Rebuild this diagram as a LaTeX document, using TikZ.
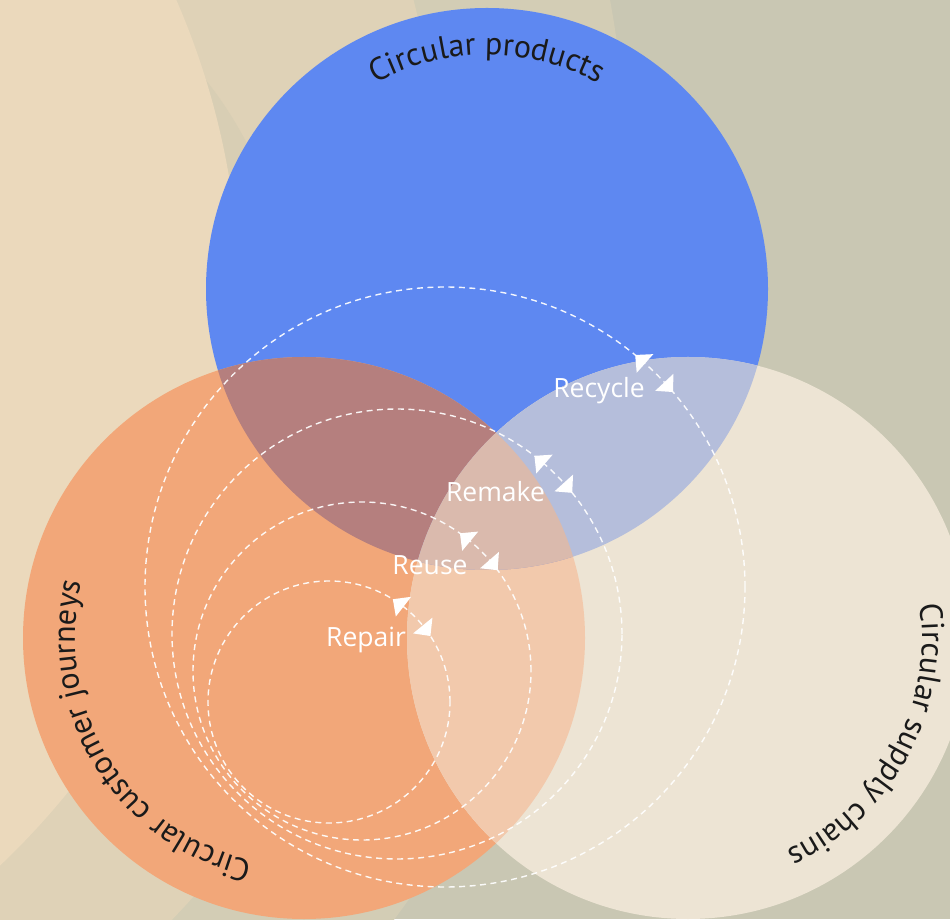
\documentclass[tikz,border=0pt]{standalone}
\usepackage{fontspec}
\setmainfont{Open Sans}
\newfontfamily\arcfont{PT Sans}
\usetikzlibrary{calc,decorations.text}
\definecolor{bgGrey}{HTML}{C9C7B3}
\definecolor{bgMidA}{HTML}{D3CDB5}
\definecolor{bgMidB}{HTML}{DFD2B7}
\definecolor{bgBand}{HTML}{D8CEB4}
\definecolor{bgLight}{HTML}{EBD9BC}
\definecolor{prodBlue}{HTML}{5E88F1}
\definecolor{custOrange}{HTML}{F2A779}
\definecolor{supBeige}{HTML}{EDE4D4}
\definecolor{ovBO}{HTML}{B57F7E}
\definecolor{ovBS}{HTML}{B5BEDB}
\definecolor{ovOS}{HTML}{F2C9AC}
\definecolor{ovAll}{HTML}{DABAAD}
\definecolor{txtDark}{HTML}{1A1A1A}
\tikzset{
  dashloop/.style={draw=white, draw opacity=0.92, line width=1.4pt, dash pattern=on 6pt off 4.5pt},
  arrowtip/.style={fill=white},
  looplabel/.style={text=white, font=\fontsize{26.5}{31}\selectfont, anchor=base, inner sep=0pt},
  arctext/.style={decorate, decoration={text along path, text align=center, text color=txtDark, text={|\arcfont\fontsize{32}{38}\selectfont|#1}}},
}
\newcommand\looparrows[2]{%
  \pgfmathsetmacro\tipoff{deg(26.5/#2)}%
  \pgfmathsetmacro\baseoff{deg(13.5/#2)}%
  \pgfmathsetmacro\aone{45.6+\tipoff}\pgfmathsetmacro\bone{45.6+\baseoff}%
  \pgfmathsetmacro\atwo{45.6-\tipoff}\pgfmathsetmacro\btwo{45.6-\baseoff}%
  \pgfmathsetmacro\rin{#2-12.5}\pgfmathsetmacro\rout{#2+12.5}%
  \fill[arrowtip] ($(#1)+(\aone:#2)$) -- ($(#1)+(\bone:\rout)$) -- ($(#1)+(\bone:\rin)$) -- cycle;
  \fill[arrowtip] ($(#1)+(\atwo:#2)$) -- ($(#1)+(\btwo:\rout)$) -- ($(#1)+(\btwo:\rin)$) -- cycle;
}
\begin{document}
\begin{tikzpicture}[x=1pt,y=1pt]
\path[use as bounding box] (0,0) rectangle (950,919);
\clip (0,0) rectangle (950,919);
% background
\fill[bgGrey] (0,0) rectangle (950,919);
\fill[bgMidA] (-554,707) circle[radius=1183pt];
\fill[bgMidB] (-534,676) circle[radius=978pt];
\fill[bgBand] (-108,591) circle[radius=400pt];
\fill[bgLight] (-530,612) circle[radius=770pt];
% main circles
\coordinate (cB) at (487,630);
\coordinate (cO) at (304,281);
\coordinate (cS) at (688,281);
\fill[prodBlue] (cB) circle[radius=281pt];
\fill[custOrange] (cO) circle[radius=281pt];
\fill[supBeige] (cS) circle[radius=281pt];
\begin{scope}
  \clip (cO) circle[radius=281pt];
  \fill[ovOS] (cS) circle[radius=281pt];
\end{scope}
\begin{scope}
  \clip (cB) circle[radius=281pt];
  \fill[ovBO] (cO) circle[radius=281pt];
  \fill[ovBS] (cS) circle[radius=281pt];
  \clip (cO) circle[radius=281pt];
  \fill[ovAll] (cS) circle[radius=281pt];
\end{scope}
% curved titles
\path[arctext={Circular products}] (cB) ++(150:234) arc[start angle=150, end angle=30, radius=234pt];
\path[arctext={Circular customer journeys}] (cO) ++(-58.5:229) arc[start angle=-58.5, end angle=-238.5, radius=229pt];
\path[arctext={Circular supply chains}] (cS) ++(61.5:234) arc[start angle=61.5, end angle=-118.5, radius=234pt];
% loops
\coordinate (cRecycle) at (445,332);
\coordinate (cRemake) at (397,285);
\coordinate (cReuse) at (362,248);
\coordinate (cRepair) at (329,217);
\draw[dashloop] (cRecycle) circle[radius=300pt];
\draw[dashloop] (cRemake) circle[radius=225pt];
\draw[dashloop] (cReuse) circle[radius=169pt];
\draw[dashloop] (cRepair) circle[radius=121pt];
\looparrows{cRecycle}{300}
\looparrows{cRemake}{225}
\looparrows{cReuse}{169}
\looparrows{cRepair}{121}
% labels
\node[looplabel] (lRecycle) at (599,521) {Recycle};
\node[looplabel] (lRemake) at (495.5,417) {Remake};
\node[looplabel] (lReuse) at (430,344) {Reuse};
\node[looplabel] (lRepair) at (366,273) {Repair};
\end{tikzpicture}
\end{document}
